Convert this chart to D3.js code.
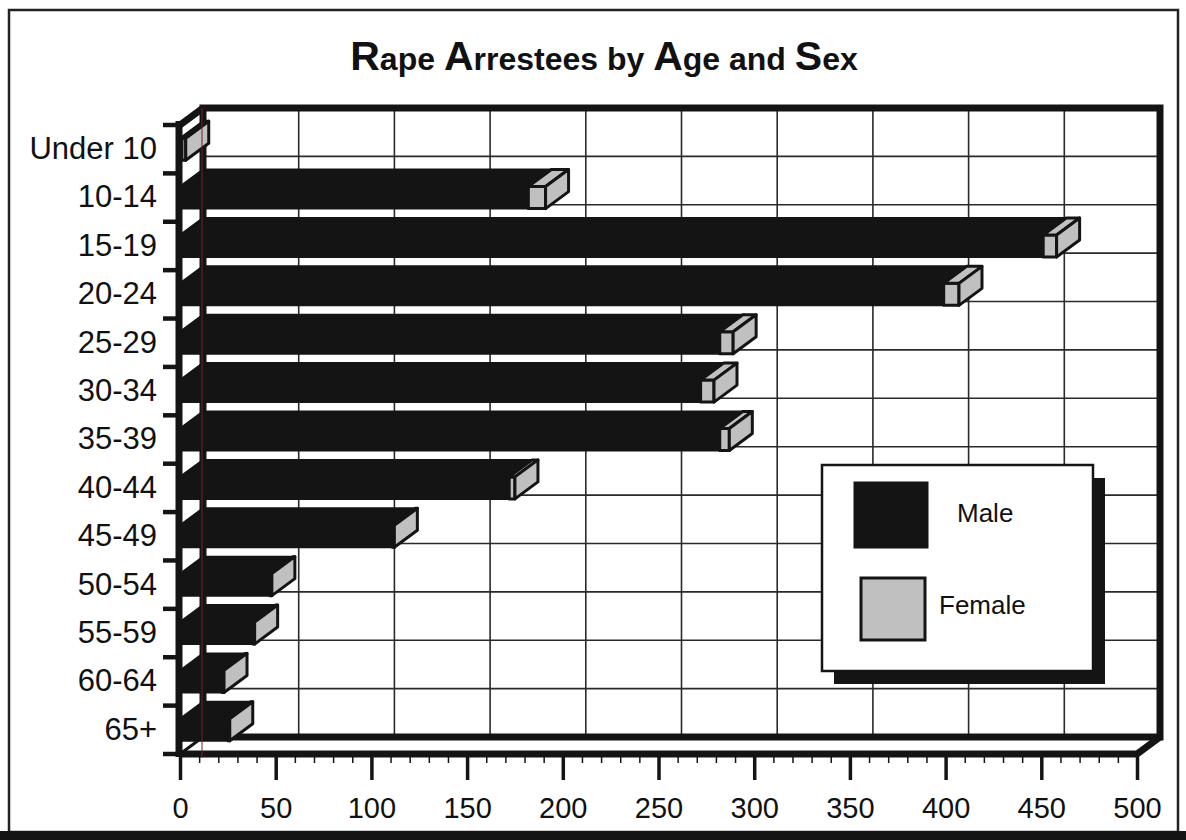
<!DOCTYPE html>
<html><head><meta charset="utf-8">
<script src="https://cdn.jsdelivr.net/npm/d3@7"></script>
<style>body{margin:0;background:#fff}svg{display:block}text{font-family:"Liberation Sans",Arial,Helvetica,sans-serif}</style>
</head><body><svg id="c" width="1186" height="840"></svg>
<script>
// ---- data ----
const ages = ["Under 10","10-14","15-19","20-24","25-29","30-34","35-39","40-44","45-49","50-54","55-59","60-64","65+"];
const male   = [1, 182, 451, 399, 282, 272, 282, 172, 111, 47, 38, 22, 25];
const female = [2,   9,   7,   8,   7,   7,   5,   3,   1,  1,  1,  1,  1];
const xTicks = [0,50,100,150,200,250,300,350,400,450,500];
const minorTicks = d3.range(0,501,10);
const seriesNames = ["Male","Female"];
const titleParts = [["R",1],["ape ",0],["A",1],["rrestees by ",0],["A",1],["ge and ",0],["S",1],["ex",0]];

// ---- setup ----
const W=1186,H=840, DX=23, DY=-17;
const BLACK="#141414", GRAY="#c0c0c0";
const svg=d3.select("#c");
const x=d3.scaleLinear().domain([0,500]).range([180,1137]);
const y=d3.scaleBand().domain(ages).range([125,754]).paddingInner(0.545).paddingOuter(0.2725);
const row=d3.scaleLinear().domain([0,ages.length]).range([125,754]);
const color=d3.scaleOrdinal().domain(seriesNames).range([BLACK,GRAY]);
const poly=p=>p.map(d=>d.join(",")).join(" ");

// frame
svg.append("rect").attr("x",9).attr("y",10).attr("width",1169).attr("height",822)
  .attr("fill","#fff").attr("stroke","#222").attr("stroke-width",2.5);
svg.append("rect").attr("x",0).attr("y",831).attr("width",W).attr("height",9).attr("fill",BLACK);

// back wall
const bx0=x(0)+DX, bx1=x(500)+DX, by0=row(0)+DY, by1=row(ages.length)+DY;
svg.append("rect").attr("x",bx0).attr("y",by0).attr("width",bx1-bx0).attr("height",by1-by0).attr("fill","#fff");
const grid=svg.append("g").attr("stroke","#2a2a2a").attr("stroke-width",1.6);
grid.selectAll(".v").data(xTicks.filter(v=>v>0&&v<500)).join("line")
  .attr("x1",d=>x(d)+DX).attr("x2",d=>x(d)+DX).attr("y1",by0).attr("y2",by1);
grid.selectAll(".h").data(d3.range(1,ages.length)).join("line")
  .attr("x1",bx0).attr("x2",bx1).attr("y1",d=>row(d)+DY).attr("y2",d=>row(d)+DY);

// left wall & floor
svg.append("polygon").attr("points",poly([[x(0),row(0)],[bx0,by0],[bx0,by1],[x(0),row(ages.length)]])).attr("fill","#fff");
svg.append("polygon").attr("points",poly([[x(0),row(ages.length)],[x(500),row(ages.length)],[bx1,by1],[bx0,by1]])).attr("fill","#fff");

// thick borders
const thick=svg.append("g").attr("stroke",BLACK).attr("stroke-width",7).attr("fill","none").attr("stroke-linejoin","miter");
thick.append("rect").attr("x",bx0).attr("y",by0).attr("width",bx1-bx0).attr("height",by1-by0);
thick.append("polyline").attr("points",poly([[x(0),row(0)],[bx0,by0]]));
thick.append("polyline").attr("points",poly([[x(0),row(ages.length)],[x(500),row(ages.length)],[bx1,by1]]));
thick.append("line").attr("x1",x(0)).attr("x2",bx0).attr("y1",row(ages.length)).attr("y2",by1).attr("stroke-width",3);

// bars
const data=ages.map((a,i)=>({age:a,m:male[i],f:female[i]}));
const bars=svg.append("g");
data.forEach(d=>{
  const yt=y(d.age), h=y.bandwidth();
  const x0=x(0), xm=x(d.m), xt=x(d.m+d.f);
  const g=bars.append("g");
  g.append("polygon").attr("points",poly([[x0,yt+h],[x0,yt],[x0+DX,yt+DY],[xm+DX,yt+DY],[xm,yt],[xm,yt+h]]))
    .attr("fill",color("Male")).attr("stroke",BLACK).attr("stroke-width",2);
  const fs=[
    [[xm,yt],[xt,yt],[xt,yt+h],[xm,yt+h]],
    [[xm,yt],[xm+DX,yt+DY],[xt+DX,yt+DY],[xt,yt]],
    [[xt,yt],[xt+DX,yt+DY],[xt+DX,yt+h+DY],[xt,yt+h]]
  ];
  g.selectAll("polygon.f").data(fs).join("polygon").attr("class","f").attr("points",poly)
    .attr("fill",color("Female")).attr("stroke",BLACK).attr("stroke-width",3).attr("stroke-linejoin","round");
});

// scan line artifact at back-wall zero
svg.append("line").attr("x1",bx0-1).attr("x2",bx0-1).attr("y1",by0).attr("y2",row(ages.length)+4)
  .attr("stroke","#7a2020").attr("stroke-width",1);

// left axis line + ticks
svg.append("line").attr("x1",x(0)-1).attr("x2",x(0)-1).attr("y1",row(0)-4).attr("y2",row(ages.length)+3)
  .attr("stroke",BLACK).attr("stroke-width",7);
svg.append("g").selectAll("line").data(d3.range(0,ages.length+1)).join("line")
  .attr("x1",163).attr("x2",x(0)).attr("y1",d=>row(d)).attr("y2",d=>row(d))
  .attr("stroke",BLACK).attr("stroke-width",4.5);

// category labels
const yAx=svg.append("g").attr("transform",`translate(${x(0)},0)`)
  .call(d3.axisLeft(y).tickSize(0).tickPadding(23));
yAx.select(".domain").remove();
yAx.selectAll("text").attr("font-size",31).attr("fill","#111").attr("font-family","Liberation Sans, Arial, sans-serif");

// x axis
const axY=row(ages.length)+3;
const minor=svg.append("g").attr("transform",`translate(0,${axY})`)
  .call(d3.axisBottom(x).tickValues(minorTicks).tickSize(6).tickFormat(""));
minor.select(".domain").remove();
minor.selectAll("line").attr("stroke",BLACK).attr("stroke-width",1.5);
const xAx=svg.append("g").attr("transform",`translate(0,${axY})`)
  .call(d3.axisBottom(x).tickValues(xTicks).tickSize(23).tickPadding(17));
xAx.select(".domain").remove();
xAx.selectAll("line").attr("stroke",BLACK).attr("stroke-width",3.5);
xAx.selectAll("text").attr("font-size",29).attr("fill","#111").attr("font-family","Liberation Sans, Arial, sans-serif");

// legend
const L=svg.append("g");
L.append("rect").attr("x",834).attr("y",478).attr("width",271).attr("height",206).attr("fill",BLACK);
L.append("rect").attr("x",822).attr("y",465).attr("width",271).attr("height",206).attr("fill","#fff").attr("stroke",BLACK).attr("stroke-width",2.5);
const sw=[{x:855,y:483,w:72,h:64},{x:861,y:578,w:64,h:62}];
const tx=[{x:957,y:522},{x:939,y:614}];
seriesNames.forEach((s,i)=>{
  L.append("rect").attr("x",sw[i].x).attr("y",sw[i].y).attr("width",sw[i].w).attr("height",sw[i].h)
    .attr("fill",color(s)).attr("stroke",BLACK).attr("stroke-width",3);
  L.append("text").attr("x",tx[i].x).attr("y",tx[i].y).attr("font-size",26).attr("fill","#111").text(s);
});

// title
const t=svg.append("text").attr("x",604).attr("y",70).attr("text-anchor","middle").attr("font-weight","bold").attr("fill","#111");
titleParts.forEach(p=>t.append("tspan").attr("font-size",p[1]?41:32).text(p[0]));
</script></body></html>
